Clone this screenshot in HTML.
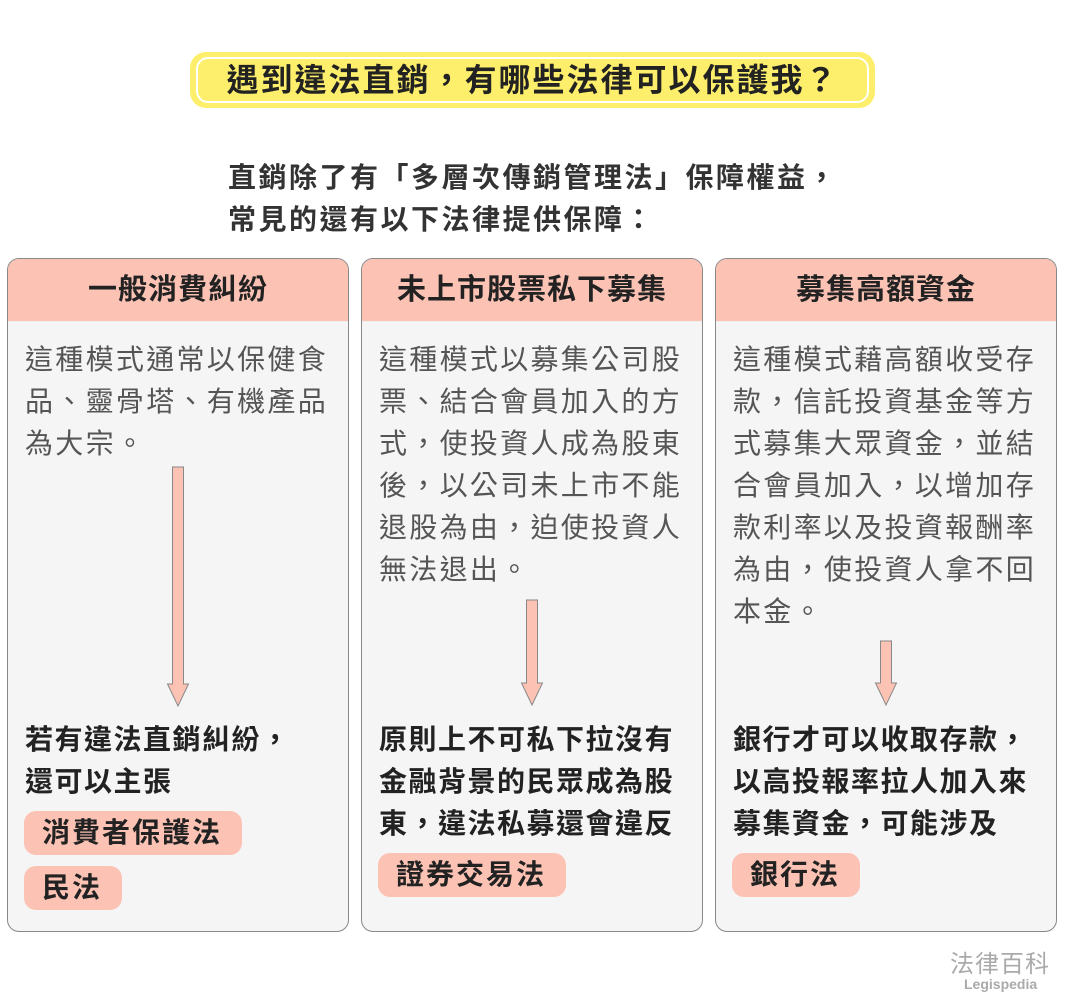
<!DOCTYPE html>
<html><head><meta charset="utf-8"><style>
*{margin:0;padding:0;box-sizing:border-box}
body{width:1065px;height:1004px;background:#fff;position:relative;overflow:hidden;font-family:"Liberation Sans","Noto Sans CJK TC",sans-serif;color:#333}
.title{position:absolute;left:190px;top:52px;width:685px;height:56px;background:#fdef6b;border-radius:16px}
.title div{position:absolute;left:6px;top:5px;right:6px;bottom:5px;border:2px solid #fff;border-radius:12px;text-align:center;font-size:32px;font-weight:bold;line-height:42px;letter-spacing:2px;color:#222}
.sub{position:absolute;left:228px;top:157px;font-size:28px;font-weight:bold;line-height:42px;letter-spacing:2.5px;color:#333}
.box{position:absolute;top:258px;width:342px;height:674px;background:#f5f5f5;border:1.5px solid #888;border-radius:12px;overflow:hidden}
.hd{height:63px;background:#fcc3b5;text-align:center;font-size:29px;font-weight:bold;line-height:63px;letter-spacing:1px;color:#222;border-bottom:1px solid #eee}
.txt{position:absolute;left:17px;top:80px;font-size:28px;line-height:42px;letter-spacing:2.3px;color:#555;white-space:nowrap}
.bt{position:absolute;left:17px;font-size:28px;line-height:42px;font-weight:bold;letter-spacing:1.5px;color:#222;white-space:nowrap}
.tag{position:absolute;left:16px;height:44px;background:#fcc3b5;border-radius:12px;font-size:28px;font-weight:bold;line-height:44px;padding:0 20px 0 18px;letter-spacing:2px;color:#222;white-space:nowrap}
.logo{position:absolute;left:950px;top:944px;font-size:24px;color:#aaa;letter-spacing:1px}
.logo2{position:absolute;left:964px;top:976px;font-size:14px;font-weight:bold;color:#aaa}
</style></head><body>
<div class="title"><div>遇到違法直銷，有哪些法律可以保護我？</div></div>
<div class="sub">直銷除了有「多層次傳銷管理法」保障權益，<br>常見的還有以下法律提供保障：</div>

<div class="box" style="left:7px">
<div class="hd">一般消費糾紛</div>
<div class="txt">這種模式通常以保健食<br>品、靈骨塔、有機產品<br>為大宗。</div>
<svg style="position:absolute;left:158px;top:207px" width="24" height="242"><path d="M6.5 1 H17.5 V218 H22.5 L12 240 L1.5 218 H6.5 Z" fill="#fcc3b5" stroke="#888" stroke-width="1"/></svg>
<div class="bt" style="top:460px">若有違法直銷糾紛，<br>還可以主張</div>
<div class="tag" style="top:552px">消費者保護法</div>
<div class="tag" style="top:607px">民法</div>
</div>

<div class="box" style="left:361px">
<div class="hd">未上市股票私下募集</div>
<div class="txt">這種模式以募集公司股<br>票、結合會員加入的方<br>式，使投資人成為股東<br>後，以公司未上市不能<br>退股為由，迫使投資人<br>無法退出。</div>
<svg style="position:absolute;left:158px;top:340px" width="24" height="108"><path d="M6.5 1 H17.5 V84 H22.5 L12 106 L1.5 84 H6.5 Z" fill="#fcc3b5" stroke="#888" stroke-width="1"/></svg>
<div class="bt" style="top:460px">原則上不可私下拉沒有<br>金融背景的民眾成為股<br>東，違法私募還會違反</div>
<div class="tag" style="top:594px">證券交易法</div>
</div>

<div class="box" style="left:715px">
<div class="hd">募集高額資金</div>
<div class="txt">這種模式藉高額收受存<br>款，信託投資基金等方<br>式募集大眾資金，並結<br>合會員加入，以增加存<br>款利率以及投資報酬率<br>為由，使投資人拿不回<br>本金。</div>
<svg style="position:absolute;left:158px;top:381px" width="24" height="67"><path d="M6.5 1 H17.5 V43 H22.5 L12 65 L1.5 43 H6.5 Z" fill="#fcc3b5" stroke="#888" stroke-width="1"/></svg>
<div class="bt" style="top:460px">銀行才可以收取存款，<br>以高投報率拉人加入來<br>募集資金，可能涉及</div>
<div class="tag" style="top:594px">銀行法</div>
</div>

<div class="logo">法律百科</div>
<div class="logo2">Legispedia</div>
</body></html>
